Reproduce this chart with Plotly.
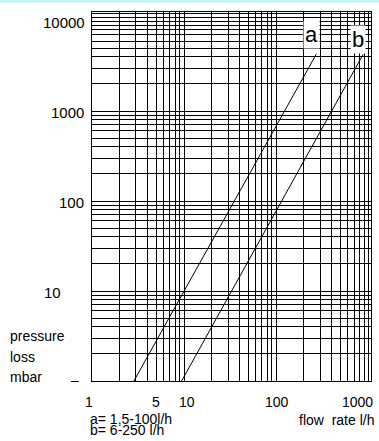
import math
import plotly.graph_objects as go

# ---- data ----
flow_a = [2.85, 273]
loss_a = [1, 4300]
flow_b = [9.4, 878]
loss_b = [1, 4250]

series_names = ["a", "b"]
series_label_x = [243, 769]
series_label_y = [7000, 6200]

y_tick_vals = [10, 100, 1000, 10000]
y_tick_text = ["10", "100", "1000", "10000"]
x_tick_vals = [1, 5, 10, 100, 1000]
x_tick_text = ["1", "5", "10", "100", "1000"]

range_notes = ["a= 1,5-100l/h", "b= 6-250 l/h"]
y_title_lines = ["pressure", "loss", "mbar"]
x_title = "flow\u00a0 rate l/h"

X_MAX = 1070
Y_MAX = 12600

# grid positions (log grid 1..9 per decade)
x_grid = [m * 10 ** k for k in range(0, 3) for m in range(1, 10)] + [1000]
y_grid = [m * 10 ** k for k in range(0, 4) for m in range(1, 10)] + [10000, 11000, 12000]

FONT = "Liberation Sans, Arial, sans-serif"

fig = go.Figure()
fig.add_trace(go.Scatter(x=flow_a, y=loss_a, mode="lines",
                         line=dict(color="black", width=1), showlegend=False, hoverinfo="skip"))
fig.add_trace(go.Scatter(x=flow_b, y=loss_b, mode="lines",
                         line=dict(color="black", width=1), showlegend=False, hoverinfo="skip"))

fig.update_xaxes(type="log", range=[0, math.log10(X_MAX)], tickmode="array", tickvals=x_grid,
                 showticklabels=False, showgrid=True, gridcolor="black", gridwidth=1,
                 showline=True, linecolor="black", linewidth=1, mirror=True, ticks="",
                 zeroline=False)
fig.update_yaxes(type="log", range=[0, math.log10(Y_MAX)], tickmode="array", tickvals=y_grid,
                 showticklabels=False, showgrid=True, gridcolor="black", gridwidth=1,
                 showline=True, linecolor="black", linewidth=1, mirror=True, ticks="",
                 zeroline=False)

ann = []
# light cyan strip along the top edge of the picture
ann.append(dict(x=0.351, y=1, xref="paper", yref="paper", text="\u00a0", showarrow=False,
                xanchor="center", yanchor="bottom", yshift=8.5, width=420, height=4,
                borderpad=0, bgcolor="#bdf6f8", font=dict(size=1)))
# series labels
for name, xv, yv in zip(series_names, series_label_x, series_label_y):
    ann.append(dict(x=math.log10(xv), y=math.log10(yv), xref="x", yref="y", text=name,
                    showarrow=False, bgcolor="white", borderpad=1,
                    font=dict(family=FONT, size=22, color="black")))
# y tick labels
y_shift_x = [-29, -6, -6, -5]
for v, t, sx in zip(y_tick_vals, y_tick_text, y_shift_x):
    ann.append(dict(x=0, y=math.log10(v), xref="paper", yref="y", text=t, showarrow=False,
                    xanchor="right", yanchor="middle", xshift=sx, yshift=-1,
                    font=dict(family=FONT, size=15, color="black")))
# dash at y = 1
ann.append(dict(x=0, y=0, xref="paper", yref="y", text="\u2013", showarrow=False,
                xanchor="right", yanchor="middle", xshift=-11, yshift=1,
                font=dict(family=FONT, size=14, color="black")))
# x tick labels
x_shift_x = [-3, 0, 3, 1, -11]
for v, t, sx in zip(x_tick_vals, x_tick_text, x_shift_x):
    ann.append(dict(x=math.log10(v), y=0, xref="x", yref="paper", text=t, showarrow=False,
                    xanchor="center", yanchor="middle", xshift=sx, yshift=-21,
                    font=dict(family=FONT, size=14, color="black")))
# y title lines
for line, sy in zip(y_title_lines, [45, 24, 4]):
    ann.append(dict(x=0, y=0, xref="paper", yref="paper", text=line, showarrow=False,
                    xanchor="left", yanchor="middle", xshift=-84, yshift=sy,
                    font=dict(family=FONT, size=14, color="black")))
# range notes
for line, sy in zip(range_notes, [-38, -49]):
    ann.append(dict(x=0, y=0, xref="paper", yref="paper", text=line, showarrow=False,
                    xanchor="left", yanchor="middle", xshift=-4, yshift=sy,
                    font=dict(family=FONT, size=14, color="black")))
# x title
ann.append(dict(x=1, y=0, xref="paper", yref="paper", text=x_title, showarrow=False,
                xanchor="right", yanchor="middle", xshift=5, yshift=-39,
                font=dict(family=FONT, size=14, color="black")))

fig.update_layout(
    width=379, height=441,
    margin=dict(l=91.5, r=8.3, t=12.3, b=60, pad=0),
    paper_bgcolor="white", plot_bgcolor="white",
    annotations=ann,
)

fig.write_html("out.html", config={"displayModeBar": False},
               post_script="document.body.style.margin='0';document.body.style.padding='0';")
